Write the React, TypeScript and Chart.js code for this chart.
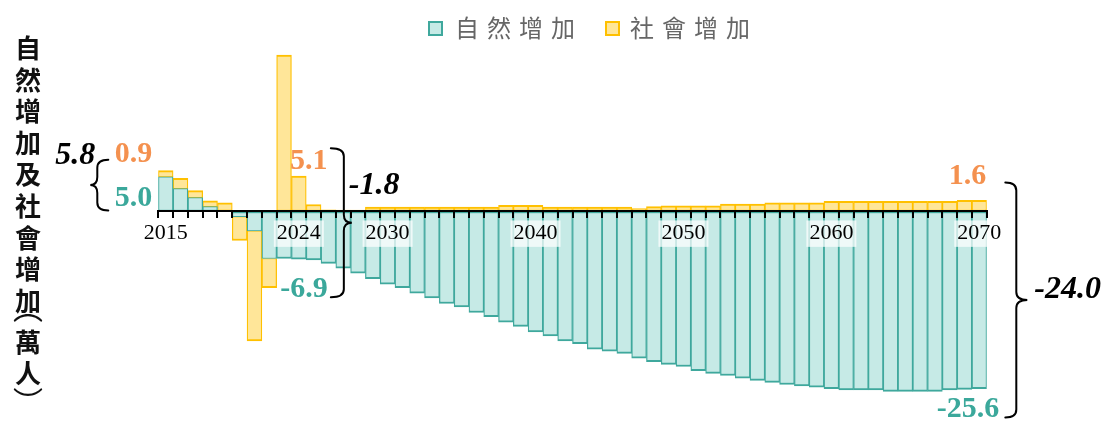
import React, { useEffect, useRef } from 'react';
import { Chart, registerables } from 'chart.js';

Chart.register(...registerables);

// ---------------- data ----------------
const years = [
  '2015', '2016', '2017', '2018', '2019', '2020', '2021', '2022', '2023', '2024',
  '2025', '2026', '2027', '2028', '2029', '2030', '2031', '2032', '2033', '2034',
  '2035', '2036', '2037', '2038', '2039', '2040', '2041', '2042', '2043', '2044',
  '2045', '2046', '2047', '2048', '2049', '2050', '2051', '2052', '2053', '2054',
  '2055', '2056', '2057', '2058', '2059', '2060', '2061', '2062', '2063', '2064',
  '2065', '2066', '2067', '2068', '2069', '2070',
];

// 自然增加 (萬人)
const naturalIncrease = [
  5.0, 3.3, 2.0, 0.7, 0.15, -0.75, -2.8, -6.8, -6.8, -6.9,
  -7.0, -7.5, -8.2, -8.9, -9.7, -10.5, -11.0, -11.8, -12.5, -13.3,
  -13.8, -14.6, -15.2, -16.0, -16.6, -17.4, -18.0, -18.7, -19.1, -19.9,
  -20.2, -20.5, -21.2, -21.7, -22.1, -22.4, -23.0, -23.4, -23.7, -24.1,
  -24.4, -24.7, -25.0, -25.2, -25.4, -25.6, -25.8, -25.8, -25.8, -26.0,
  -26.0, -26.0, -26.0, -25.8, -25.7, -25.6,
];

// 社會增加 (萬人)
const socialIncrease = [
  0.9, 1.5, 1.0, 0.85, 1.1, -3.45, -15.9, -4.2, 22.6, 5.1,
  1.0, 0.25, 0.2, 0.2, 0.65, 0.65, 0.65, 0.65, 0.65, 0.65,
  0.65, 0.65, 0.65, 0.9, 0.9, 0.9, 0.65, 0.65, 0.65, 0.65,
  0.65, 0.65, 0.4, 0.7, 0.8, 0.8, 0.8, 0.8, 1.05, 1.05,
  1.05, 1.25, 1.25, 1.25, 1.25, 1.45, 1.45, 1.45, 1.45, 1.45,
  1.45, 1.45, 1.45, 1.45, 1.6, 1.6,
];

const shownYears = ['2015', '2024', '2030', '2040', '2050', '2060', '2070'];

const calloutYears = ['2015', '2024', '2070'];
const calloutSocial = ['0.9', '5.1', '1.6'];
const calloutNatural = ['5.0', '-6.9', '-25.6'];
const calloutTotal = ['5.8', '-1.8', '-24.0'];

const seriesNames = ['自然增加', '社會增加'];
const axisTitleChars = ['自', '然', '增', '加', '及', '社', '會', '增', '加', '︵', '萬', '人', '︶'];

// ---------------- styles ----------------
const TEAL_FILL = '#C6EAE6';
const TEAL_LINE = '#3FA89D';
const GOLD_FILL = '#FFE699';
const GOLD_LINE = '#FFC000';
const ORANGE_TXT = '#F4914F';
const TEAL_TXT = '#3BA89B';
const SERIF = "'Liberation Serif', 'Times New Roman', serif";

function drawBrace(ctx: CanvasRenderingContext2D, xs: number, y1: number, y2: number, dir: number, hook: number, tip: number) {
  const m = (y1 + y2) / 2;
  const r = 8;
  ctx.beginPath();
  ctx.moveTo(xs - dir * hook, y1);
  ctx.quadraticCurveTo(xs, y1, xs, y1 + r);
  ctx.lineTo(xs, m - r);
  ctx.quadraticCurveTo(xs, m, xs + dir * tip, m);
  ctx.quadraticCurveTo(xs, m, xs, m + r);
  ctx.lineTo(xs, y2 - r);
  ctx.quadraticCurveTo(xs, y2, xs - dir * hook, y2);
  ctx.stroke();
}

function drawText(ctx: CanvasRenderingContext2D, t: string, x: number, y: number, align: CanvasTextAlign, font: string, color: string) {
  ctx.font = font;
  ctx.fillStyle = color;
  ctx.textAlign = align;
  ctx.textBaseline = 'middle';
  ctx.fillText(t, x, y);
}

const annotationPlugin = {
  id: 'calloutAnnotations',
  afterDraw(chart: any) {
    const ctx: CanvasRenderingContext2D = chart.ctx;
    const xs = chart.scales.x;
    const ys = chart.scales.y;
    const half = (xs.getPixelForValue(1) - xs.getPixelForValue(0)) / 2;
    const idx = calloutYears.map((y) => years.indexOf(y));
    const cx = idx.map((i) => xs.getPixelForValue(i));
    const topOf = (i: number) => ys.getPixelForValue(Math.max(0, naturalIncrease[i]) + Math.max(0, socialIncrease[i]));
    const zero = ys.getPixelForValue(0);
    const bold30 = `bold 30px ${SERIF}`;
    const bi32 = `italic bold 32px ${SERIF}`;

    ctx.save();
    ctx.lineWidth = 2;
    ctx.strokeStyle = '#000';
    ctx.lineCap = 'round';

    // 2015
    const left0 = cx[0] - half;
    const t0 = topOf(idx[0]);
    drawText(ctx, calloutSocial[0], left0 - 6, t0 - 16, 'right', bold30, ORANGE_TXT);
    drawText(ctx, calloutNatural[0], left0 - 6, ys.getPixelForValue(naturalIncrease[idx[0]]) + 21, 'right', bold30, TEAL_TXT);
    drawBrace(ctx, left0 - 61, t0 - 11, zero - 1, -1, 11, 7);
    drawText(ctx, calloutTotal[0], left0 - 63, t0 - 15, 'right', bi32, '#000');

    // 2024
    const c1 = cx[1];
    const t1 = ys.getPixelForValue(socialIncrease[idx[1]]);
    const b1 = ys.getPixelForValue(naturalIncrease[idx[1]]);
    drawText(ctx, calloutSocial[1], c1 + 10, t1 - 15, 'center', bold30, ORANGE_TXT);
    drawText(ctx, calloutNatural[1], c1 + 29, b1 + 30, 'right', bold30, TEAL_TXT);
    const by1 = t1 - 28;
    const by2 = b1 + 38;
    drawBrace(ctx, c1 + 45, by1, by2, 1, 13, 8);
    drawText(ctx, calloutTotal[1], c1 + 50, (by1 + by2) / 2 - 37, 'left', bi32, '#000');

    // 2070
    const c2 = cx[2];
    const t2 = ys.getPixelForValue(socialIncrease[idx[2]]);
    const b2 = ys.getPixelForValue(naturalIncrease[idx[2]]);
    drawText(ctx, calloutSocial[2], c2 + 7, t2 - 24, 'right', bold30, ORANGE_TXT);
    drawText(ctx, calloutNatural[2], c2 + 20, b2 + 21, 'right', bold30, TEAL_TXT);
    const ry1 = t2 - 18;
    const ry2 = b2 + 29;
    drawBrace(ctx, c2 + 37, ry1, ry2, 1, 11, 11);
    drawText(ctx, calloutTotal[2], c2 + 55, (ry1 + ry2) / 2 - 10, 'left', bi32, '#000');

    ctx.restore();
  },
};

function tealBorder(ctx: any) {
  const i = ctx.dataIndex;
  const v = naturalIncrease[i];
  const s = socialIncrease[i];
  const same = (v > 0 && s > 0) || (v < 0 && s < 0);
  const outer = same ? 1 : 2;
  return v >= 0 ? { top: outer, bottom: 2, left: 1.25, right: 1.25 } : { top: 2, bottom: outer, left: 1.25, right: 1.25 };
}

function goldBorder(ctx: any) {
  const i = ctx.dataIndex;
  const v = naturalIncrease[i];
  const s = socialIncrease[i];
  const same = (v > 0 && s > 0) || (v < 0 && s < 0);
  const inner = same ? 1 : 2;
  return s >= 0 ? { top: 2, bottom: inner, left: 1.25, right: 1.25 } : { top: inner, bottom: 2, left: 1.25, right: 1.25 };
}

export default function App() {
  const canvasRef = useRef<HTMLCanvasElement | null>(null);

  useEffect(() => {
    if (!canvasRef.current) return;
    const chart = new Chart(canvasRef.current, {
      type: 'bar',
      data: {
        labels: years,
        datasets: [
          {
            label: seriesNames[0],
            data: naturalIncrease,
            backgroundColor: TEAL_FILL,
            borderColor: TEAL_LINE,
            borderWidth: tealBorder as any,
            borderSkipped: false,
            barPercentage: 1,
            categoryPercentage: 1,
          },
          {
            label: seriesNames[1],
            data: socialIncrease,
            backgroundColor: GOLD_FILL,
            borderColor: GOLD_LINE,
            borderWidth: goldBorder as any,
            borderSkipped: false,
            barPercentage: 1,
            categoryPercentage: 1,
          },
        ],
      },
      options: {
        responsive: false,
        animation: false,
        devicePixelRatio: 1,
        layout: { padding: { left: 158.3, right: 124.3, top: 52.3, bottom: 22.7 } },
        plugins: {
          legend: { display: false },
          tooltip: { enabled: false },
          title: { display: false },
        },
        scales: {
          x: {
            type: 'category',
            position: { y: 0 } as any,
            stacked: true,
            offset: true,
            grid: {
              display: true,
              drawOnChartArea: false,
              drawTicks: true,
              tickLength: 6,
              color: '#000',
              lineWidth: 2,
              offset: true,
              z: 1,
            },
            border: { display: true, color: '#000', width: 2, z: 1 },
            ticks: {
              autoSkip: false,
              maxRotation: 0,
              minRotation: 0,
              padding: 3,
              color: '#000',
              font: { family: SERIF, size: 22 },
              callback: (_v: any, i: number) => (shownYears.includes(years[i]) ? years[i] : ''),
              showLabelBackdrop: true,
              backdropColor: (c: any) => (shownYears.includes(years[c.index]) ? 'rgba(255,255,255,0.72)' : 'rgba(255,255,255,0)'),
              backdropPadding: { left: 3, right: 3, top: 0, bottom: 0 },
              z: 1,
            } as any,
          },
          y: {
            display: false,
            stacked: true,
            min: -27,
            max: 23,
          },
        },
      },
      plugins: [annotationPlugin],
    } as any);
    return () => chart.destroy();
  }, []);

  const titleCenters = [44, 75.6, 107.2, 138.8, 170.4, 202, 233.6, 265.2, 296.8, 300, 337.5, 368.5, 394];

  return (
    <div style={{ position: 'absolute', left: 0, top: 0, width: 1111, height: 421, background: '#fff', overflow: 'hidden' }}>
      <canvas ref={canvasRef} width={1111} height={421} style={{ position: 'absolute', left: 0, top: 0, width: 1111, height: 421 }} />
      {/* legend */}
      <div style={{ position: 'absolute', left: 428, top: 21, width: 15, height: 15, boxSizing: 'border-box', border: `2px solid ${TEAL_LINE}`, background: TEAL_FILL }} />
      <div style={{ position: 'absolute', left: 455, top: 11, font: "24px 'Noto Sans CJK TC', sans-serif", lineHeight: '32px', letterSpacing: '8px', color: '#666', whiteSpace: 'nowrap' }}>{seriesNames[0]}</div>
      <div style={{ position: 'absolute', left: 605, top: 21, width: 15, height: 15, boxSizing: 'border-box', border: `2px solid ${GOLD_LINE}`, background: GOLD_FILL }} />
      <div style={{ position: 'absolute', left: 630, top: 11, font: "24px 'Noto Sans CJK TC', sans-serif", lineHeight: '32px', letterSpacing: '8px', color: '#666', whiteSpace: 'nowrap' }}>{seriesNames[1]}</div>
      {/* vertical axis title */}
      {axisTitleChars.map((ch, k) => {
        const isParen = ch === '︵' || ch === '︶';
        return (
          <div
            key={k}
            style={{
              position: 'absolute',
              left: 13,
              top: titleCenters[k] - 16,
              width: 30,
              height: 32,
              lineHeight: '32px',
              textAlign: 'center',
              font: isParen ? "30px 'Noto Sans CJK TC', sans-serif" : "bold 26px 'Noto Sans CJK TC', sans-serif",
              color: '#111',
            }}
          >
            {ch}
          </div>
        );
      })}
    </div>
  );
}
